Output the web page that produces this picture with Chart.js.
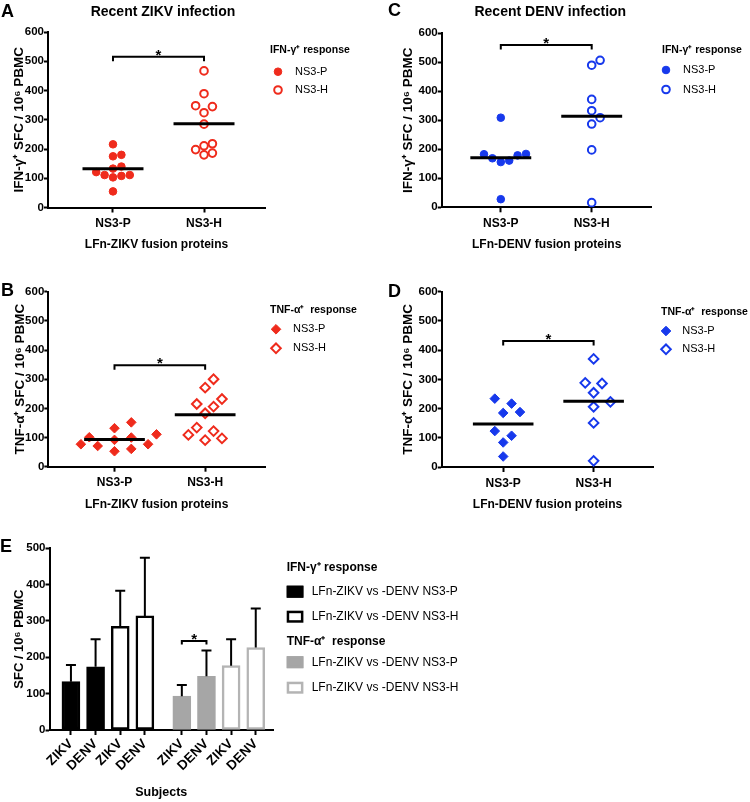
<!DOCTYPE html>
<html>
<head>
<meta charset="utf-8">
<script src="https://cdn.jsdelivr.net/npm/chart.js@4/dist/chart.umd.min.js"></script>
<style>
body{margin:0;background:#fff;}
#wrap{position:relative;width:750px;height:802px;}
canvas{position:absolute;}
</style>
</head>
<body>
<div id="wrap">
<canvas id="chartA" width="375" height="255" style="left:0;top:0"></canvas>
<canvas id="chartC" width="375" height="255" style="left:375px;top:0"></canvas>
<canvas id="chartB" width="375" height="260" style="left:0;top:255px"></canvas>
<canvas id="chartD" width="375" height="260" style="left:375px;top:255px"></canvas>
<canvas id="chartE" width="750" height="287" style="left:0;top:515px"></canvas>
</div>
<script>
// spot counts (SFC / 10^6 PBMC)
const antigens = ['NS3-P', 'NS3-H'];
const zikvIfnP = [55, 103, 108, 111, 111, 121, 133, 140, 175, 180, 216];
const zikvIfnH = [180, 186, 198, 211, 218, 285, 324, 345, 348, 389, 467];
const denvIfnP = [28, 156, 161, 169, 179, 183, 184, 309];
const denvIfnH = [16, 198, 287, 309, 333, 372, 490, 507];
const zikvTnfP = [53, 61, 71, 77, 77, 92, 100, 101, 111, 132, 152];
const zikvTnfH = [91, 97, 109, 122, 134, 183, 206, 215, 232, 271, 300];
const denvTnfP = [36, 84, 107, 123, 185, 188, 217, 234];
const denvTnfH = [21, 151, 206, 223, 254, 286, 288, 370];
const scatterTicks = [0, 100, 200, 300, 400, 500, 600];
// height of the "*" brackets, panels A C B D
const sigLevels = [515, 560, 348, 431];

// panel E
const subjects = ['ZIKV', 'DENV', 'ZIKV', 'DENV', 'ZIKV', 'DENV', 'ZIKV', 'DENV'];
const barMeans = [133, 174, 285, 314, 93, 148, 177, 227];
const barSD = [46, 76, 98, 160, 31, 71, 73, 107];
const barTicks = [0, 100, 200, 300, 400, 500];
const barSigLevel = 245;

// styles
const RED = '#ef2b1c';
const BLUE = '#1739ec';
const barFill = ['#000', '#000', '#fff', '#fff', '#a6a6a6', '#a6a6a6', '#fff', '#fff'];
const barEdge = ['#000', '#000', '#000', '#000', '#a6a6a6', '#a6a6a6', '#b4b4b4', '#b4b4b4'];

const REG = "'Liberation Sans', Arial, sans-serif";
Chart.defaults.font.family = REG;
Chart.defaults.color = '#000';

function mean(a){ return a.reduce((s, v) => s + v, 0) / a.length; }

const panelText = {
  id: 'panelText',
  afterDraw(chart, args, o){
    const ctx = chart.ctx;
    ctx.save();
    ctx.fillStyle = '#000';
    ctx.textBaseline = 'middle';
    ctx.textAlign = 'left';
    ctx.font = 'bold 18px ' + REG;
    ctx.fillText(o.letter, o.lx, o.ly);
    if (o.title) {
      ctx.font = 'bold 14px ' + REG;
      ctx.textAlign = 'center';
      ctx.fillText(o.title, o.tx, o.ty);
    }
    ctx.restore();
  }
};

const sigBar = {
  id: 'sigBar',
  afterDatasetsDraw(chart, args, o){
    const ctx = chart.ctx, xs = chart.scales.x, ys = chart.scales.y;
    const x1 = xs.getPixelForValue(o.from), x2 = xs.getPixelForValue(o.to);
    const yy = ys.getPixelForValue(o.level);
    ctx.save();
    ctx.strokeStyle = '#000';
    ctx.lineWidth = 2;
    ctx.beginPath();
    ctx.moveTo(x1, yy + o.leg);
    ctx.lineTo(x1, yy);
    ctx.lineTo(x2, yy);
    ctx.lineTo(x2, yy + o.leg);
    ctx.stroke();
    ctx.fillStyle = '#000';
    ctx.font = 'bold 15px ' + REG;
    ctx.textAlign = 'center';
    ctx.textBaseline = 'alphabetic';
    ctx.fillText('*', (x1 + x2) / 2, yy + 3);
    ctx.restore();
  }
};

const sideLegend = {
  id: 'sideLegend',
  afterDraw(chart, args, o){
    const ctx = chart.ctx;
    ctx.save();
    ctx.textBaseline = 'middle';
    ctx.textAlign = 'left';
    ctx.fillStyle = '#000';
    ctx.font = 'bold 10.5px ' + REG;
    ctx.fillText(o.title, o.tx, o.ty);
    const rows = [o.r1, o.r2];
    chart.data.datasets.filter(d => d.label).forEach((d, i) => {
      ctx.fillStyle = d.backgroundColor;
      ctx.strokeStyle = d.borderColor;
      ctx.lineWidth = d.borderWidth;
      Chart.helpers.drawPoint(ctx, {pointStyle: d.pointStyle, radius: d.pointRadius, borderWidth: d.borderWidth, rotation: 0}, o.mx, rows[i]);
      ctx.fillStyle = '#000';
      ctx.font = '11px ' + REG;
      ctx.fillText(d.label, o.lx, rows[i]);
    });
    ctx.restore();
  }
};

// spread points of one column sideways so they don't overlap (like a column scatter)
function swarm(chart, step, minDist){
  const xs = chart.scales.x, ys = chart.scales.y;
  chart.data.datasets.forEach(ds => {
    if (!ds.values) return;
    const cx = xs.getPixelForValue(ds.column);
    const placed = [];
    const order = ds.values.map((v, i) => i).sort((a, b) => ds.values[a] - ds.values[b]);
    order.forEach(i => {
      const py = ys.getPixelForValue(ds.values[i]);
      for (let k = 0; k < 30; k++) {
        const px = cx + (k % 2 ? 1 : -1) * Math.ceil(k / 2) * step;
        if (placed.every(p => Math.hypot(p[0] - px, p[1] - py) >= minDist)) {
          placed.push([px, py]);
          ds.data[i] = {x: xs.getValueForPixel(px), y: ds.values[i]};
          break;
        }
      }
    });
  });
  chart.update('none');
}

function makeScatter(id, p){
  const datasets = [
    {label: antigens[0], values: p.pVals, column: 1, data: p.pVals.map(v => ({x: 1, y: v})),
     pointStyle: p.shape, pointRadius: p.r, backgroundColor: p.color, borderColor: p.color, borderWidth: 1, order: 1},
    {label: antigens[1], values: p.hVals, column: 2, data: p.hVals.map(v => ({x: 2, y: v})),
     pointStyle: p.shape, pointRadius: p.r, backgroundColor: '#fff', borderColor: p.color, borderWidth: 2, order: 1}
  ];
  [p.pVals, p.hVals].forEach((vals, i) => {
    const m = mean(vals);
    datasets.push({data: [{x: i + 1 - 0.335, y: m}, {x: i + 1 + 0.335, y: m}], showLine: true,
      pointRadius: 0, borderColor: '#000', borderWidth: 3, order: 0});
  });
  const chart = new Chart(document.getElementById(id), {
    type: 'scatter',
    data: {datasets: datasets},
    options: {
      responsive: false,
      animation: false,
      devicePixelRatio: 1,
      events: [],
      layout: {padding: {left: 0, top: p.top, right: p.right, bottom: 0}},
      scales: {
        x: {
          type: 'linear', min: p.xmin, max: p.xmax,
          afterBuildTicks: s => { s.ticks = [{value: 1}, {value: 2}]; },
          afterFit: s => { s.height = p.xh; },
          ticks: {callback: (v, i) => antigens[i], autoSkip: false, maxRotation: 0, padding: 4,
                  font: {size: 12, weight: 'bold'}},
          grid: {drawOnChartArea: false, tickLength: 5, tickWidth: 2, tickColor: '#000'},
          border: {color: '#000', width: 2},
          title: {display: true, text: p.xTitle, font: {size: 12, weight: 'bold'}, padding: {top: 0, bottom: 3}}
        },
        y: {
          min: 0, max: 600,
          afterBuildTicks: s => { s.ticks = scatterTicks.map(v => ({value: v})); },
          afterFit: s => { s.width = p.left; },
          ticks: {padding: 0, font: {size: 11.5, weight: 'bold'}},
          grid: {drawOnChartArea: false, tickLength: 4, tickWidth: 2, tickColor: '#000'},
          border: {color: '#000', width: 2},
          title: {display: true, text: p.yTitle, font: {size: 13.5, weight: 'bold'},
                  padding: {top: p.yPad, bottom: 0}}
        }
      },
      plugins: {
        legend: {display: false},
        tooltip: {enabled: false},
        panelText: p.text,
        sigBar: {from: 1, to: 2, level: p.sig, leg: 4.5},
        sideLegend: p.legend
      }
    },
    plugins: [panelText, sigBar, sideLegend]
  });
  swarm(chart, p.step, p.minDist);
  return chart;
}

makeScatter('chartA', {
  pVals: zikvIfnP, hVals: zikvIfnH, color: RED, shape: 'circle', r: 3.8, step: 8.4, minDist: 8.3,
  xmin: 0.286, xmax: 2.67, left: 48, right: 110, top: 32, xh: 47.5, yPad: 11, sig: sigLevels[0],
  xTitle: 'LFn-ZIKV fusion proteins', yTitle: 'IFN-γ⁺ SFC / 10⁶ PBMC',
  text: {letter: 'A', lx: 1, ly: 12, title: 'Recent ZIKV infection', tx: 163, ty: 12.5},
  legend: {title: 'IFN-γ⁺ response', tx: 270, ty: 50, mx: 278, lx: 295, r1: 71.7, r2: 90}
});

makeScatter('chartC', {
  pVals: denvIfnP, hVals: denvIfnH, color: BLUE, shape: 'circle', r: 3.8, step: 8.4, minDist: 8.3,
  xmin: 0.35, xmax: 2.66, left: 66.7, right: 98.3, top: 33.3, xh: 47.7, yPad: 25, sig: sigLevels[1],
  xTitle: 'LFn-DENV fusion proteins', yTitle: 'IFN-γ⁺ SFC / 10⁶ PBMC',
  text: {letter: 'C', lx: 13, ly: 11.5, title: 'Recent DENV infection', tx: 175.3, ty: 12},
  legend: {title: 'IFN-γ⁺ response', tx: 287, ty: 50, mx: 291, lx: 308, r1: 70, r2: 89.5}
});

makeScatter('chartB', {
  pVals: zikvTnfP, hVals: zikvTnfH, color: RED, shape: 'rectRot', r: 4.8, step: 8.4, minDist: 10.5,
  xmin: 0.27, xmax: 2.66, left: 48.3, right: 110, top: 36.7, xh: 48.3, yPad: 12, sig: sigLevels[2],
  xTitle: 'LFn-ZIKV fusion proteins', yTitle: 'TNF-α⁺ SFC / 10⁶ PBMC',
  text: {letter: 'B', lx: 1, ly: 36.5},
  legend: {title: 'TNF-α⁺  response', tx: 270, ty: 55, mx: 276, lx: 293, r1: 74.3, r2: 93.3}
});

makeScatter('chartD', {
  pVals: denvTnfP, hVals: denvTnfH, color: BLUE, shape: 'rectRot', r: 4.8, step: 8.4, minDist: 10.5,
  xmin: 0.32, xmax: 2.66, left: 66.7, right: 96.7, top: 36.7, xh: 48, yPad: 25, sig: sigLevels[3],
  xTitle: 'LFn-DENV fusion proteins', yTitle: 'TNF-α⁺ SFC / 10⁶ PBMC',
  text: {letter: 'D', lx: 13, ly: 37},
  legend: {title: 'TNF-α⁺  response', tx: 286, ty: 56.7, mx: 291, lx: 307.3, r1: 76, r2: 94.3}
});

// ---- panel E: means with SD
const barPos = subjects.map((s, i) => i < 4 ? i : i + 0.5);

const errBars = {
  id: 'errBars',
  afterDatasetsDraw(chart){
    const ctx = chart.ctx, ys = chart.scales.y;
    ctx.save();
    ctx.strokeStyle = '#000';
    ctx.lineWidth = 2;
    chart.getDatasetMeta(0).data.forEach((bar, i) => {
      const top = ys.getPixelForValue(barMeans[i] + barSD[i]);
      ctx.beginPath();
      ctx.moveTo(bar.x, bar.y);
      ctx.lineTo(bar.x, top);
      ctx.moveTo(bar.x - 5, top);
      ctx.lineTo(bar.x + 5, top);
      ctx.stroke();
    });
    ctx.restore();
  }
};

const boxLegend = {
  id: 'boxLegend',
  afterDraw(chart){
    const ctx = chart.ctx;
    const groups = [
      {title: 'IFN-γ⁺ response', y: 53, items: [0, 2], dy: [23.7, 48.7]},
      {title: 'TNF-α⁺  response', y: 126.7, items: [4, 6], dy: [20.5, 46]}
    ];
    ctx.save();
    ctx.textBaseline = 'middle';
    ctx.textAlign = 'left';
    groups.forEach(g => {
      ctx.fillStyle = '#000';
      ctx.font = 'bold 12px ' + REG;
      ctx.fillText(g.title, 286.7, g.y);
      g.items.forEach((k, j) => {
        const yy = g.y + g.dy[j];
        ctx.fillStyle = barFill[k];
        ctx.fillRect(286.7, yy - 6, 16.7, 12);
        ctx.strokeStyle = barEdge[k];
        ctx.lineWidth = 2.5;
        ctx.strokeRect(287.95, yy - 4.75, 14.2, 9.5);
        ctx.fillStyle = '#000';
        ctx.font = '12px ' + REG;
        ctx.fillText('LFn-ZIKV vs -DENV ' + antigens[(k / 2) % 2], 311.7, yy);
      });
    });
    ctx.restore();
  }
};

new Chart(document.getElementById('chartE'), {
  type: 'bar',
  data: {
    datasets: [{
      data: barMeans.map((m, i) => ({x: barPos[i], y: m})),
      backgroundColor: barFill,
      borderColor: barEdge,
      borderWidth: 2.5,
      borderSkipped: false,
      barThickness: 18
    }]
  },
  options: {
    responsive: false,
    animation: false,
    devicePixelRatio: 1,
    events: [],
    layout: {padding: {left: 0, top: 33.3, right: 477, bottom: 0}},
    scales: {
      x: {
        type: 'linear', min: -0.87, max: 8.2, offset: false,
        afterBuildTicks: s => { s.ticks = barPos.map(v => ({value: v})); },
        afterFit: s => { s.height = 72; },
        ticks: {callback: (v, i) => subjects[i], autoSkip: false, minRotation: 45, maxRotation: 45, padding: 1,
                font: {size: 13.5, weight: 'bold'}},
        grid: {offset: false, drawOnChartArea: false, tickLength: 5, tickWidth: 2, tickColor: '#000'},
        border: {color: '#000', width: 2},
        title: {display: true, text: 'Subjects', font: {size: 12.5, weight: 'bold'}, padding: {top: 0, bottom: 2}}
      },
      y: {
        min: 0, max: 500,
        afterBuildTicks: s => { s.ticks = barTicks.map(v => ({value: v})); },
        afterFit: s => { s.width = 49.5; },
        ticks: {padding: 0, font: {size: 11.5, weight: 'bold'}},
        grid: {drawOnChartArea: false, tickLength: 4, tickWidth: 2, tickColor: '#000'},
        border: {color: '#000', width: 2},
        title: {display: true, text: 'SFC / 10⁶ PBMC', font: {size: 13, weight: 'bold'},
                padding: {top: 12, bottom: 0}}
      }
    },
    plugins: {
      legend: {display: false},
      tooltip: {enabled: false},
      panelText: {letter: 'E', lx: 0, ly: 32.5},
      sigBar: {from: barPos[4], to: barPos[5], level: barSigLevel, leg: 3.5}
    }
  },
  plugins: [panelText, errBars, sigBar, boxLegend]
});
</script>
</body>
</html>
